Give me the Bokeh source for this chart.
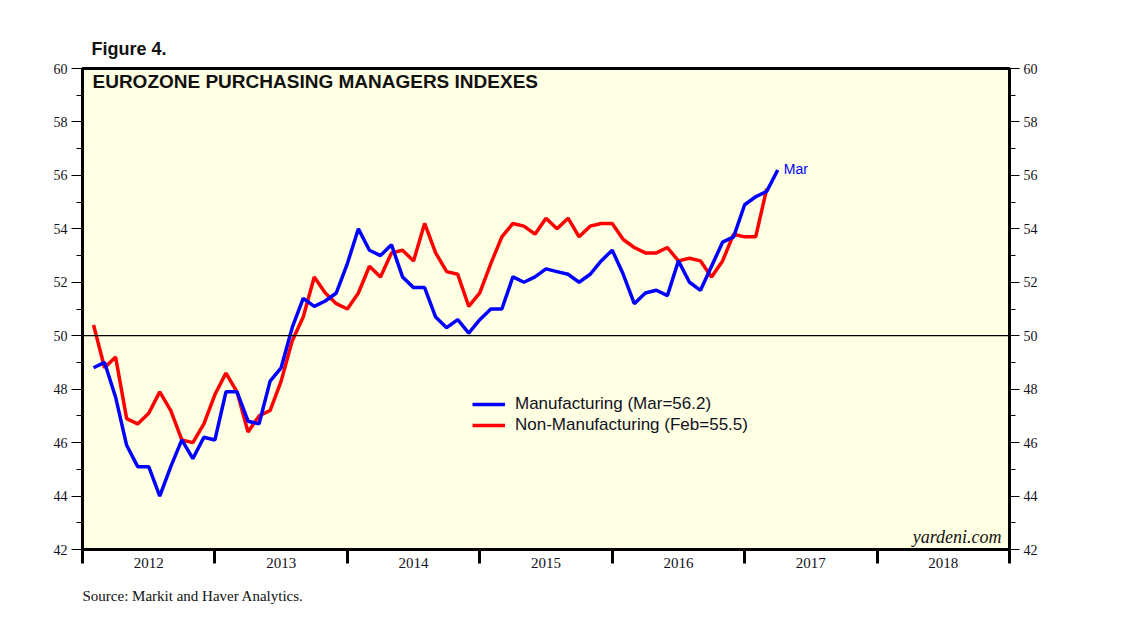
from bokeh.plotting import figure
from bokeh.models import Range1d, LinearAxis, FixedTicker, Span, Label, Legend, LegendItem, Title
from bokeh.embed import file_html
from bokeh.resources import INLINE

# ---------------- data ----------------
start_year = 2012
end_year = 2019
year_labels = ["2012", "2013", "2014", "2015", "2016", "2017", "2018"]
y_major_ticks = [42, 44, 46, 48, 50, 52, 54, 56, 58, 60]
y_minor_ticks = [43, 45, 47, 49, 51, 53, 55, 57, 59]

# Monthly, Jan 2012 .. Mar 2017
manufacturing = [48.8, 49.0, 47.7, 45.9, 45.1, 45.1, 44.0, 45.1, 46.1, 45.4, 46.2, 46.1,
                 47.9, 47.9, 46.8, 46.7, 48.3, 48.8, 50.3, 51.4, 51.1, 51.3, 51.6, 52.7,
                 54.0, 53.2, 53.0, 53.4, 52.2, 51.8, 51.8, 50.7, 50.3, 50.6, 50.1, 50.6,
                 51.0, 51.0, 52.2, 52.0, 52.2, 52.5, 52.4, 52.3, 52.0, 52.3, 52.8, 53.2,
                 52.3, 51.2, 51.6, 51.7, 51.5, 52.8, 52.0, 51.7, 52.6, 53.5, 53.7, 54.9,
                 55.2, 55.4, 56.2]
# Monthly, Jan 2012 .. Feb 2017
non_manufacturing = [50.4, 48.8, 49.2, 46.9, 46.7, 47.1, 47.9, 47.2, 46.1, 46.0, 46.7, 47.8,
                     48.6, 47.9, 46.4, 47.0, 47.2, 48.3, 49.8, 50.7, 52.2, 51.6, 51.2, 51.0,
                     51.6, 52.6, 52.2, 53.1, 53.2, 52.8, 54.2, 53.1, 52.4, 52.3, 51.1, 51.6,
                     52.7, 53.7, 54.2, 54.1, 53.8, 54.4, 54.0, 54.4, 53.7, 54.1, 54.2, 54.2,
                     53.6, 53.3, 53.1, 53.1, 53.3, 52.8, 52.9, 52.8, 52.2, 52.8, 53.8, 53.7,
                     53.7, 55.5]

mfg_label = "Manufacturing (Mar=56.2)"
nonmfg_label = "Non-Manufacturing (Feb=55.5)"
last_label = "Mar"

# month-end positions in fractional years
mfg_x = [start_year + (i + 1) / 12 for i in range(len(manufacturing))]
non_x = [start_year + (i + 1) / 12 for i in range(len(non_manufacturing))]

SERIF = "Liberation Serif"
SANS = "Liberation Sans"

p = figure(width=1130, height=619, output_backend="svg", toolbar_location=None,
           x_range=Range1d(start_year, end_year), y_range=Range1d(42, 60),
           x_axis_location=None, y_axis_location=None,
           min_border_left=82, min_border_right=121, min_border_top=68, min_border_bottom=70)
for g in p.grid:
    g.visible = False

p.background_fill_color = "#FFFFE3"
p.border_fill_color = "white"
p.outline_line_color = "black"
p.outline_line_width = 3

# y axes
yt = FixedTicker(ticks=y_major_ticks, minor_ticks=y_minor_ticks)
for side, tick_len in (("left", 11), ("right", 10)):
    ax = LinearAxis(ticker=yt)
    ax.axis_line_color = None
    ax.major_tick_out = tick_len
    ax.major_tick_in = 0
    ax.minor_tick_out = 6
    ax.minor_tick_in = 0
    ax.major_tick_line_width = 1.2
    ax.minor_tick_line_width = 1.2
    ax.major_label_standoff = 4
    ax.major_label_text_font = SERIF
    ax.major_label_text_font_size = "14px"
    ax.major_label_text_color = "#111122"
    p.add_layout(ax, side)

# x axis: labels mid-year, tick marks at year boundaries
mid_ticks = [start_year + k + 0.5 for k in range(len(year_labels))]
xt = FixedTicker(ticks=mid_ticks, minor_ticks=list(range(start_year, end_year + 1)))
xax = LinearAxis(ticker=xt)
xax.major_label_overrides = {t: lbl for t, lbl in zip(mid_ticks, year_labels)}
xax.axis_line_color = None
xax.major_tick_out = 0
xax.major_tick_in = 0
xax.major_tick_line_color = None
xax.minor_tick_out = 14
xax.minor_tick_in = 0
xax.minor_tick_line_width = 3
xax.major_label_standoff = -6
xax.major_label_text_font = SERIF
xax.major_label_text_font_size = "15px"
xax.major_label_text_color = "#111122"
p.add_layout(xax, "below")

# titles outside the frame
p.add_layout(Title(text="Figure 4.", align="left", offset=9, standoff=19,
                   text_font=SANS, text_font_style="bold", text_font_size="18px",
                   text_color="#111111"), "above")
p.add_layout(Title(text="Source: Markit and Haver Analytics.", align="left", offset=0,
                   standoff=30, text_font=SERIF, text_font_style="normal",
                   text_font_size="15px", text_color="#111111"), "below")

# 50 reference line
p.add_layout(Span(location=50, dimension="width", line_color="black", line_width=1.3))

r_non = p.line(non_x, non_manufacturing, line_color="#FF0000", line_width=3.5)
r_mfg = p.line(mfg_x, manufacturing, line_color="#0000FF", line_width=3.5)

legend = Legend(items=[LegendItem(label=mfg_label, renderers=[r_mfg]),
                       LegendItem(label=nonmfg_label, renderers=[r_non])],
                location=(390, 114), orientation="vertical")
legend.background_fill_alpha = 0
legend.border_line_color = None
legend.padding = 0
legend.margin = 0
legend.spacing = 1
legend.glyph_width = 33
legend.glyph_height = 20
legend.label_height = 20
legend.label_standoff = 10
legend.label_text_font = SANS
legend.label_text_font_size = "17px"
legend.label_text_color = "#111122"
legend.label_text_baseline = "middle"
p.add_layout(legend, "center")

# texts inside the frame
p.add_layout(Label(x=mfg_x[-1], y=manufacturing[-1], text=last_label, x_offset=6, y_offset=1,
                   text_baseline="middle", text_font=SANS, text_font_size="14px",
                   text_color="#0000FF"))
p.add_layout(Label(x=start_year, y=60, text="EUROZONE PURCHASING MANAGERS INDEXES",
                   x_offset=10, y_offset=-13, text_baseline="alphabetic",
                   text_font=SANS, text_font_style="bold", text_font_size="19px",
                   text_color="#111111"))
p.add_layout(Label(x=end_year, y=42, text="yardeni.com", x_offset=-8, y_offset=13,
                   text_align="right", text_baseline="alphabetic", text_font=SERIF,
                   text_font_style="italic", text_font_size="18px", text_color="#111111"))

open("out.html", "w").write(file_html(p, INLINE))
